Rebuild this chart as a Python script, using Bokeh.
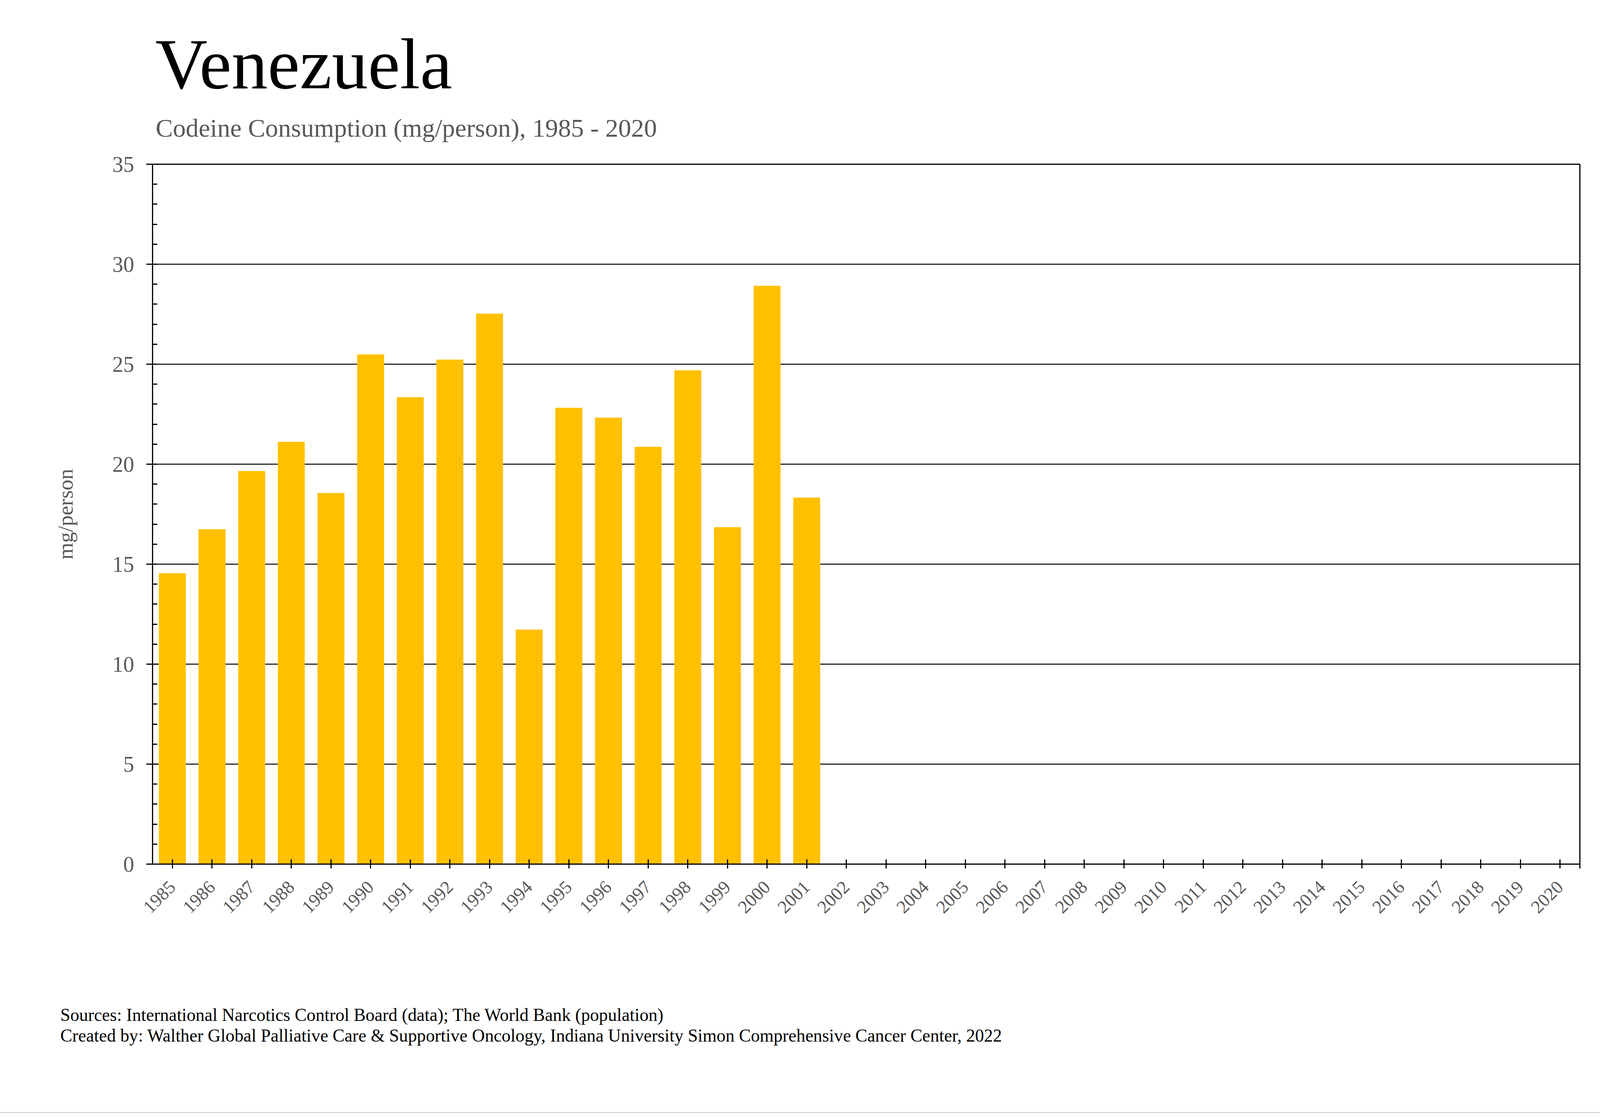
from bokeh.plotting import figure
from bokeh.models import Range1d, FixedTicker, SingleIntervalTicker, Title
from bokeh.embed import file_html
from bokeh.resources import INLINE
from math import pi

# ---- data ----
years = [1985, 1986, 1987, 1988, 1989, 1990, 1991, 1992, 1993, 1994, 1995, 1996,
         1997, 1998, 1999, 2000, 2001, 2002, 2003, 2004, 2005, 2006, 2007, 2008,
         2009, 2010, 2011, 2012, 2013, 2014, 2015, 2016, 2017, 2018, 2019, 2020]
values = [14.55, 16.75, 19.66, 21.12, 18.56, 25.49, 23.35, 25.23, 27.53, 11.73,
          22.82, 22.33, 20.87, 24.69, 16.85, 28.92, 18.33,
          None, None, None, None, None, None, None, None, None, None, None,
          None, None, None, None, None, None, None, None]
title_text = "Venezuela"
subtitle_text = "Codeine Consumption (mg/person), 1985 - 2020"
y_label = "mg/person"
footer1 = "Sources: International Narcotics Control Board (data); The World Bank (population)"
footer2 = "Created by: Walther Global Palliative Care & Supportive Oncology, Indiana University Simon Comprehensive Cancer Center, 2022"

bar_x = [y for y, v in zip(years, values) if v is not None]
bar_top = [v for v in values if v is not None]

FONT = "Liberation Serif"
GREY = "#595959"

p = figure(width=4205, height=2844, output_backend="svg", toolbar_location=None,
           x_range=Range1d(years[0] - 0.5, years[-1] + 0.5), y_range=Range1d(0, 35),
           min_border_left=390, min_border_right=161, min_border_top=420, min_border_bottom=632)
p.background_fill_color = "white"
p.border_fill_color = "white"
p.outline_line_color = "black"
p.outline_line_width = 3
p.styles = {"outline": "3px solid #D9D9D9", "outline-offset": "3px"}

p.vbar(x=bar_x, top=bar_top, bottom=0, width=0.68, fill_color="#FFC000", line_color=None)

# grid
p.xgrid.grid_line_color = None
p.ygrid.grid_line_color = "black"
p.ygrid.grid_line_width = 2.5
p.ygrid.ticker = SingleIntervalTicker(interval=5)

# y axis
ya = p.yaxis[0]
ya.ticker = SingleIntervalTicker(interval=5, num_minor_ticks=5)
ya.axis_line_color = "black"
ya.axis_line_width = 3
ya.major_tick_line_width = 3
ya.major_tick_line_color = "black"
ya.major_tick_out = 16
ya.major_tick_in = 0
ya.minor_tick_line_width = 3
ya.minor_tick_line_color = "black"
ya.minor_tick_in = 12
ya.minor_tick_out = 0
ya.major_label_text_font = FONT
ya.major_label_text_font_size = "56px"
ya.major_label_text_color = GREY
ya.major_label_standoff = 31
ya.axis_label = y_label
ya.axis_label_text_font = FONT
ya.axis_label_text_font_size = "55px"
ya.axis_label_text_font_style = "normal"
ya.axis_label_text_color = GREY
ya.axis_label_standoff = 87

# x axis
xa = p.xaxis[0]
xa.ticker = FixedTicker(ticks=years + [years[-1] + 0.5])
xa.major_label_overrides = {**{y: str(y) for y in years}, years[-1] + 0.5: ""}
xa.axis_line_color = "black"
xa.axis_line_width = 3
xa.major_tick_line_width = 3
xa.major_tick_line_color = "black"
xa.major_tick_in = 12
xa.major_tick_out = 11
xa.minor_tick_line_color = None
xa.major_label_orientation = pi / 4
xa.major_label_text_font = FONT
xa.major_label_text_font_size = "47px"
xa.major_label_text_color = GREY
xa.major_label_standoff = 40

# ---- titles (above list runs from the frame outward; p.title is outermost) ----
p.title.text = title_text
p.title.text_font = FONT
p.title.text_font_size = "185px"
p.title.text_font_style = "normal"
p.title.text_color = "black"
p.title.align = "left"
p.title.offset = 7
p.title.standoff = 46

# spacer between frame and subtitle
p.add_layout(Title(text=" ", text_font_size="1px", standoff=54), "above")
p.add_layout(Title(text=subtitle_text, text_font=FONT, text_font_size="66px",
                   text_font_style="normal", text_color=GREY, align="left",
                   offset=8, standoff=0), "above")

# ---- footers (below list runs from the frame outward) ----
p.add_layout(Title(text=" ", text_font_size="1px", standoff=213), "below")
p.add_layout(Title(text=footer1, text_font=FONT, text_font_size="45.7px",
                   text_font_style="normal", text_color="black", align="left",
                   offset=-236, standoff=0), "below")
p.add_layout(Title(text=footer2, text_font=FONT, text_font_size="45.7px",
                   text_font_style="normal", text_color="black", align="left",
                   offset=-236, standoff=0), "below")

open("out.html", "w").write(file_html(p, INLINE))
